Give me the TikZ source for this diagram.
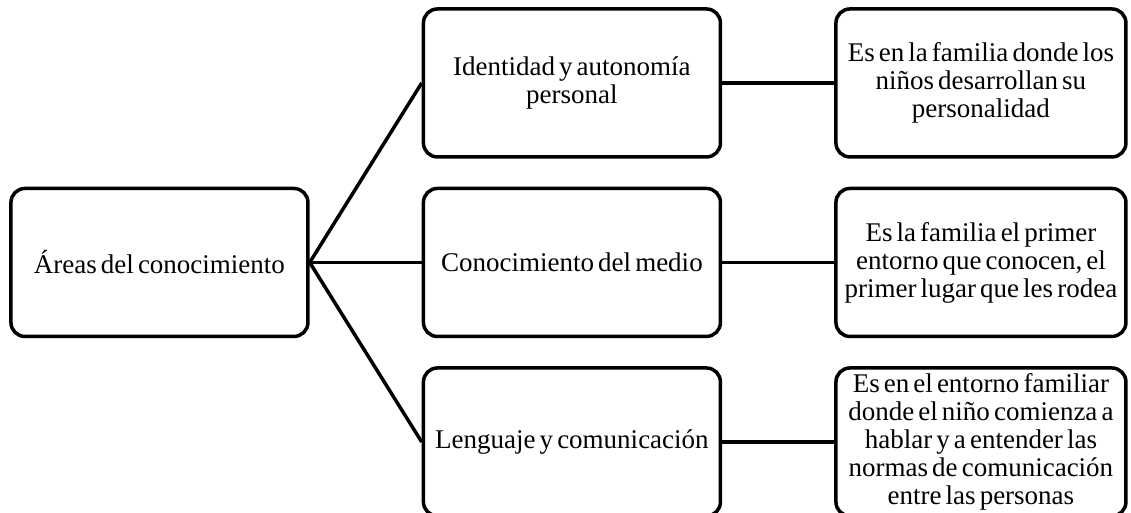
\documentclass[tikz,border=0pt]{standalone}
\usepackage{fontspec}
\setmainfont{Liberation Serif}[WordSpace=0.6]
\usetikzlibrary{matrix,positioning}

\tikzset{
  box/.style={draw, shape=rectangle, rounded corners=14pt, line width=3.5pt,
    align=center, inner sep=2pt, minimum height=148pt,
    font=\fontsize{27}{28}\selectfont},
  topic/.style={box, minimum width=297pt},
  note/.style={box, minimum width=290pt},
  link/.style={line width=3.5pt}
}

\begin{document}
\begin{tikzpicture}
  \useasboundingbox (0,0) rectangle (1131pt,-512pt);
  \matrix (map) [anchor=north west, inner sep=0pt,
    row sep=28pt,
    column sep=112pt] at (9pt,-7pt) {
  & \node (mid1) [topic] {Identidad y autonomía\\personal}; &
  \node (note1) [note] {Es en la familia donde los\\niños desarrollan su\\personalidad}; \\
  \node (area) [topic] {Áreas del conocimiento}; &
  \node (mid2) [topic] {Conocimiento del medio}; &
  \node (note2) [note] {Es la familia el primer\\entorno que conocen, el\\primer lugar que les rodea}; \\
  & \node (mid3) [topic] {Lenguaje y comunicación}; &
  \node (note3) [note] {Es en el entorno familiar\\donde el niño comienza a\\hablar y a entender las\\normas de comunicación\\entre las personas}; \\};
  \draw[link] (area.east) -- (mid1.west);
  \draw[link] (area.east) -- (mid2.west);
  \draw[link] (area.east) -- (mid3.west);
  \draw[link] (mid1) -- (note1);
  \draw[link] (mid2) -- (note2);
  \draw[link] (mid3) -- (note3);
\end{tikzpicture}
\end{document}
